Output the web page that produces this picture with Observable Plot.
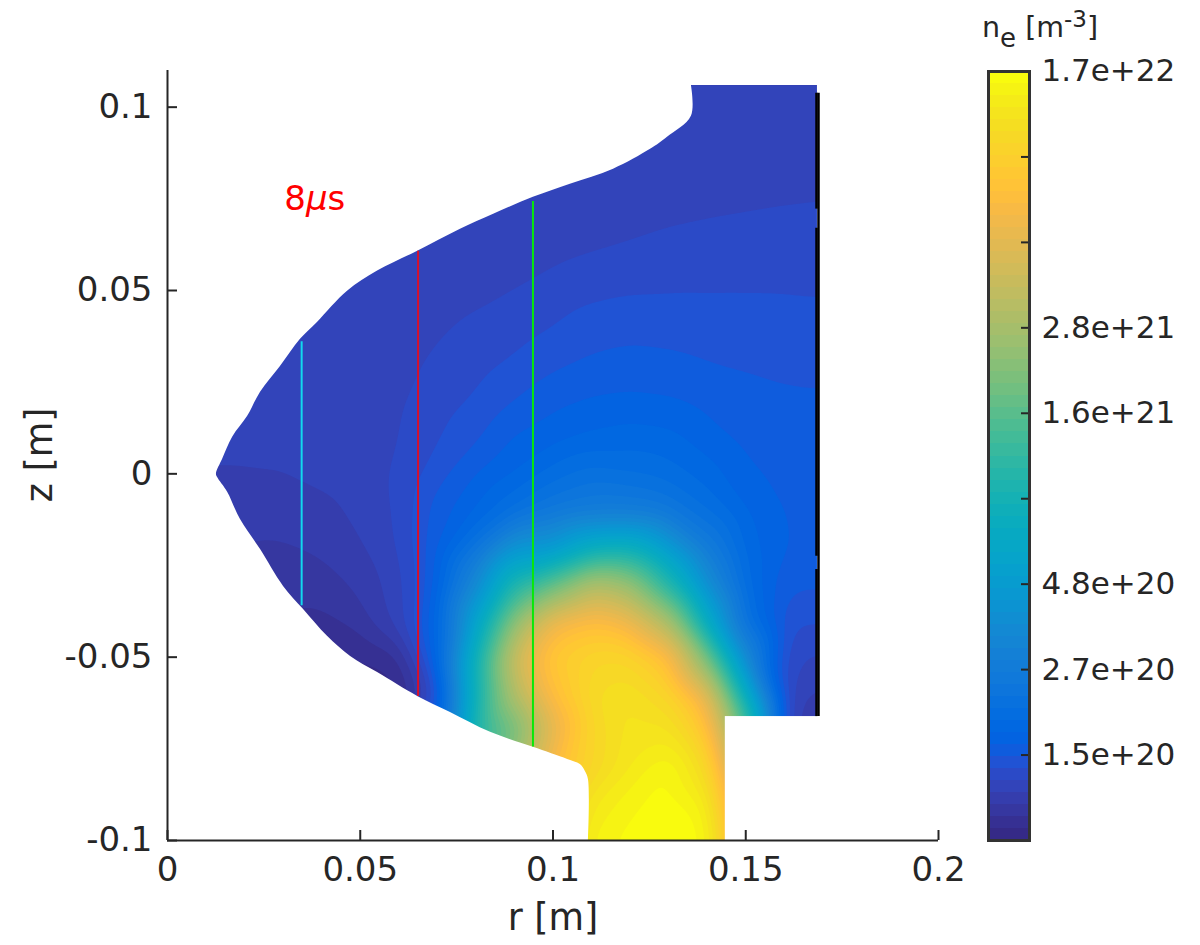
<!DOCTYPE html>
<html>
<head>
<meta charset="utf-8">
<script src="https://cdn.jsdelivr.net/npm/d3@7"></script>
<script src="https://cdn.jsdelivr.net/npm/@observablehq/plot@0.6"></script>
<style>
html,body{margin:0;padding:0;background:#fff}
#wrap{position:relative;width:1200px;height:945px;overflow:hidden;font-family:"DejaVu Sans",sans-serif;color:#262626}
#wrap svg{position:absolute;top:0;background:transparent}
#cbtitle{position:absolute;left:982px;top:10px;font-size:28.5px;line-height:36px;white-space:nowrap}
#cbtitle .sub{position:relative;top:10px;font-size:26px}
#cbtitle .sup{position:relative;top:-10px;font-size:23px}
</style>
</head>
<body>
<div id="wrap"><div id="cbtitle">n<span class="sub">e</span> [m<span class="sup">-3</span>]</div></div>
<script>
// 64-level colour map of the bar, bottom to top
const parula = ["#352A87","#363093","#3637A0","#353DAD","#3244BA","#2B4AC7","#2053D4","#0F5CDD","#0363E1","#0168E1","#046DE0","#0871DE","#0D75DC","#1079DA","#127CD8","#1480D6","#1485D4","#1389D3","#108ED2","#0C93D2","#0998D1","#079CCF","#06A0CD","#06A4CA","#06A7C6","#07A9C2","#0AACBE","#0FAEB9","#15B1B4","#1DB3AF","#25B5A9","#2EB7A4","#38B99E","#42BB98","#4DBC92","#59BD8C","#65BE86","#71BF80","#7CBF7B","#87BF77","#92BF73","#9CBF6F","#A5BE6B","#AEBD67","#B7BD64","#C0BC60","#C8BB5C","#D1BB59","#D9BA56","#E1B952","#E9B94E","#F1B94A","#F8BA44","#FDBE3D","#FFC337","#FEC832","#FCCE2E","#FAD32A","#F7D826","#F5DE21","#F5E41D","#F5EB18","#F6F313","#F9FB0E"];

// Colour-bar tick labels (evenly spaced on its log axis)
const barLow = 8.2e19, barHigh = 1.7e22;
const barLabels = ["8.2e+19","1.5e+20","2.7e+20","4.8e+20","8.7e+20","1.6e+21","2.8e+21","5.1e+21","9.2e+21","1.7e+22"];

// Sample positions of the density field
const rGrid = [.01,.02,.03,.04,.05,.06,.07,.08,.09,.10,.11,.12,.13,.14,.15,.16,.17];
const zGrid = [.11,.10,.09,.08,.07,.06,.05,.04,.03,.02,.01,0,-.01,-.02,-.03,-.04,-.05,-.06,-.07,-.08,-.09,-.10];

// Density, as position on the colour bar (0-64), one row per zGrid entry
const bandRows = [
 [4,4,4,4,4,4,4,4,4,4,4,4,4,4.1,4.1,4.1,4.1],
 [4,4,4,4,4,4,4,4,4,4,4,4,4,4.1,4.1,4.1,4.2],
 [4,4,4,4,4,4,4,4,4,4,4,4.1,4.1,4.2,4.2,4.3,4.3],
 [4,4,4,4,4,4,4,4,4.1,4.1,4.1,4.2,4.3,4.4,4.5,4.6,4.75],
 [4,4,4,4,4,4,4,4.1,4.3,4.4,4.6,4.75,4.9,5.0,5.1,5.2,5.25],
 [4,4,4,4,4,4.1,4.2,4.4,4.6,4.8,5.0,5.15,5.3,5.45,5.5,5.55,5.55],
 [4,4,4,4.1,4.2,4.3,4.55,4.75,5.0,5.35,5.7,5.9,5.93,5.93,5.95,5.95,5.9],
 [4,4,4.1,4.2,4.3,4.5,4.85,5.2,5.55,6.0,6.6,6.75,6.7,6.6,6.5,6.4,6.35],
 [4,4.1,4.2,4.2,4.4,4.7,5.2,5.65,6.15,6.8,7.15,7.3,7.2,7.0,6.9,6.8,6.75],
 [4.1,4.15,4.2,4.3,4.5,4.85,5.55,6.1,7.0,7.75,8.1,8.25,8.1,7.7,7.35,7.15,7.1],
 [4.1,4.1,4.2,4.3,4.55,4.95,5.9,6.8,8.1,8.6,9.2,9.5,9.3,8.4,7.7,7.5,7.5],
 [4,4,4,4.3,4.6,5.1,6.6,8,9,10.5,11.5,11,10.5,9.5,8.2,7.8,7.7],
 [3.4,3.25,3.45,3.65,4.3,5.1,7.5,9,11,13,14,14,13,11,9,7.9,7.8],
 [3,3,2.9,3.2,3.85,5.0,7.8,12,20,20,26,27,21,14,9.5,8,7.7],
 [2.5,2.5,2.4,2.55,3.25,4.6,8,17,30,36,44,41,30,18,10,7.2,7.15],
 [2,2,1.9,1.7,2.5,4.4,8.8,23,40,51,53.5,51,43,25,11,6.3,6.1],
 [1,1,1,1,0.95,1.65,8.5,28,47,56,58,58,54,38,17,5.4,4.7],
 [0.5,0.5,0.5,0.5,0.5,0.5,5.5,28,44,54,59,60,58,50,26,5,3.4],
 [0.5,0.5,0.5,0.5,0.5,1,8,30,37,50,58,60.5,60.5,55,35,4.5,2.5],
 [0.5,0.5,0.5,0.5,0.5,2,10,32,42,53,58,61,63.2,59,40,12,2],
 [0.5,0.5,0.5,0.5,0.5,2,10,32,44,55,61,62.7,63.6,62,45,12,2],
 [0.5,0.5,0.5,0.5,0.5,2,10,32,44,55,62.5,63.5,64,63.3,48,12,2]
];

// Left edge of the plasma domain, bottom to top
const edgeR = [.1092,.1092,.1084,.1071,.1038,.0949,.0838,.0734,.0649,.0545,.0475,.0415,.0353,.0301,.0241,.0189,.0156,.0130,.0127,.0143,.0169,.0208,.0241,.0293,.0345,.0389,.0467,.0545,.0649,.0760,.0846,.0949,.1045,.1157,.1253,.1297,.1359,.1359];
const edgeZ = [-.1,-.0834,-.0812,-.0793,-.0779,-.0746,-.0705,-.0651,-.0607,-.0542,-.0498,-.0443,-.0370,-.0307,-.0206,-.0124,-.0050,-.0010,0,.0040,.0100,.0157,.0222,.0293,.0367,.0413,.0498,.0553,.0607,.0667,.0708,.0754,.0790,.0831,.0885,.0918,.0975,.1060];

// Probe chords
const probeR = [.0348,.0650,.0948];
const probeTop = [.0360,.0607,.0743];
const probeBottom = [-.0360,-.0607,-.0745];
const probeColor = ["#12d8ee","#d8102c","#08e808"];

const xTicks = [0,.05,.1,.15,.2];
const yTicks = [.1,.05,0,-.05,-.1];

const ink = "#262626";
const samples = zGrid.flatMap((z,i)=>rGrid.map((r,j)=>({r,z,band:bandRows[i][j]})));
const edge = edgeR.map((r,i)=>({r,z:edgeZ[i]}));
const bandScale = {type:"threshold",domain:d3.range(1,64),range:parula};
const thresholds = [-1000,...d3.range(1,64)];

const main = Plot.plot({
  width:1200,height:945,marginLeft:167,marginRight:262,marginTop:70,marginBottom:105,
  style:{fontFamily:"'DejaVu Sans',sans-serif",fontSize:"34px",color:ink,background:"transparent",overflow:"visible"},
  x:{domain:[0,.2]},y:{domain:[-.1,.11]},
  color:bandScale,
  marks:[
    Plot.contour(samples,{x:"r",y:"z",fill:"band",interpolate:"barycentric",thresholds,pixelSize:2,blur:5,
      x1:.0125,x2:.1686,y1:-.1,y2:.106}),
    Plot.areaX(edge,{x1:0,x2:"r",y:"z",fill:"white",curve:"catmull-rom"}),
    Plot.rect([{}],{x1:.1447,x2:.1700,y1:-.1,y2:-.0662,fill:"white"}),
    Plot.rect([{}],{x1:.1686,x2:.1700,y1:-.1,y2:.106,fill:"white"}),
    // wall probe: right half continuous, left half interrupted
    Plot.ruleX([.16887],{y1:.1038,y2:-.0662,stroke:"#000",strokeWidth:2.5}),
    Plot.ruleX([.16835],{y1:.1038,y2:.0722,stroke:"#000",strokeWidth:2.5}),
    Plot.ruleX([.16835],{y1:.0670,y2:-.0225,stroke:"#000",strokeWidth:2.5}),
    Plot.ruleX([.16835],{y1:-.0261,y2:-.0662,stroke:"#000",strokeWidth:2.5}),
    Plot.ruleX(probeR,{y1:(d,i)=>probeTop[i],y2:(d,i)=>probeBottom[i],stroke:(d,i)=>probeColor[i],strokeWidth:2}),
    Plot.text(["8μs"],{x:.0303,y:.0719,text:d=>d,textAnchor:"start",lineAnchor:"bottom",fill:"#ff0000",fontSize:34}),
    Plot.ruleX([0],{stroke:ink,strokeWidth:2}),
    Plot.ruleY([-.1],{stroke:ink,strokeWidth:2}),
    Plot.axisX({ticks:xTicks,tickFormat:d=>String(d),tickSize:-10,tickPadding:26,stroke:ink,strokeWidth:2,strokeOpacity:1,fontSize:34,label:null}),
    Plot.axisY({ticks:yTicks,tickFormat:d=>String(d),tickSize:-10,tickPadding:25,stroke:ink,strokeWidth:2,strokeOpacity:1,fontSize:34,label:null}),
    Plot.text(["r [m]"],{x:.1,y:-.1,text:d=>d,dy:78,fontSize:36.5,fill:ink}),
    Plot.text(["z [m]"],{x:0,y:-.0,text:d=>d,dx:-127,dy:-19,rotate:-90,fontSize:36.5,fill:ink})
  ]
});
main.querySelectorAll("text").forEach(t=>{
  if(t.textContent==="8μs"){
    t.textContent="";
    const parts=[["8","normal"],["μ","italic"],["s","normal"]];
    for(const [s,st] of parts){
      const sp=document.createElementNS("http://www.w3.org/2000/svg","tspan");
      sp.textContent=s;sp.setAttribute("font-style",st);t.appendChild(sp);
    }
  }
});
main.style.left="0";
document.getElementById("wrap").appendChild(main);

const ratio = barHigh/barLow;
const barTicks = barLabels.map((_,i)=>barLow*ratio**(i/9));
const barLabelOf = d=>barLabels[Math.round(9*Math.log(d/barLow)/Math.log(ratio))];
const levels = d3.range(64);
const bar = Plot.plot({
  width:240,height:945,marginLeft:28,marginRight:171,marginTop:71,marginBottom:105,
  style:{fontFamily:"'DejaVu Sans',sans-serif",fontSize:"31px",color:ink,background:"transparent",overflow:"visible"},
  x:{domain:[0,1],axis:null},
  y:{type:"log",domain:[barLow,barHigh]},
  color:bandScale,
  marks:[
    Plot.rect(levels,{x1:0,x2:1,y1:d=>barLow*ratio**(d/64),y2:d=>barLow*ratio**((d+1)/64),fill:d=>d,shapeRendering:"crispEdges"}),
    Plot.axisY({anchor:"right",ticks:barTicks,tickFormat:barLabelOf,tickSize:-9,tickPadding:21,stroke:ink,strokeWidth:2,strokeOpacity:1,fontSize:31,label:null,textAnchor:"start"}),
    Plot.frame({stroke:"#333",strokeWidth:3})
  ]
});
bar.style.left="960px";
document.getElementById("wrap").appendChild(bar);
</script>
</body>
</html>
